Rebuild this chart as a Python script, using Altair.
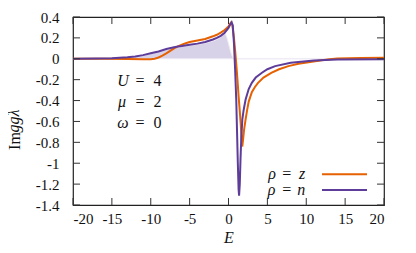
import altair as alt
import pandas as pd

# ---- data ----
E_z = [-20, -16, -13, -11, -10, -9.5, -9, -8.5, -8, -7.5, -7, -6.5, -6, -5.5, -5, -4, -3, -2, -1.5, -1,
       -0.5, 0, 0.15, 0.3, 0.5, 0.7, 0.85, 1.0, 1.15, 1.3, 1.45, 1.57, 1.68, 1.77, 1.88, 2.0, 2.2, 2.4,
       2.6, 3.0, 3.4, 3.8, 4.5, 5.5, 6.5, 7.7, 9, 10.5, 12, 13, 14, 17, 20]
v_z = [0, 0, -0.001, -0.004, -0.004, 0.0, 0.012, 0.03, 0.052, 0.076, 0.1, 0.118, 0.135, 0.148, 0.16,
       0.175, 0.19, 0.215, 0.23, 0.25, 0.275, 0.31, 0.33, 0.345, 0.32, 0.2, 0.08, -0.05, -0.2, -0.36,
       -0.5, -0.62, -0.76, -0.84, -0.77, -0.68, -0.58, -0.49, -0.41, -0.32, -0.27, -0.23, -0.18, -0.135,
       -0.1, -0.07, -0.048, -0.03, -0.014, -0.005, 0.002, 0.008, 0.01]

E_n = [-20, -17, -15, -13, -12, -11, -10, -9, -8, -7, -6.5, -6, -5, -4, -3, -2, -1.5, -1, -0.5, 0,
       0.2, 0.41, 0.55, 0.7, 0.85, 1.0, 1.1, 1.2, 1.3, 1.36, 1.45, 1.55, 1.65, 1.78, 1.95, 2.2, 2.6,
       3.0, 3.5, 4.3, 5, 6, 8, 11, 14, 20]
v_n = [0, 0.002, 0.006, 0.015, 0.022, 0.035, 0.052, 0.07, 0.093, 0.11, 0.117, 0.122, 0.135, 0.145,
       0.16, 0.185, 0.2, 0.22, 0.25, 0.295, 0.325, 0.35, 0.32, 0.15, -0.1, -0.4, -0.7, -1.0, -1.25,
       -1.31, -1.2, -0.95, -0.75, -0.58, -0.49, -0.39, -0.29, -0.23, -0.18, -0.134, -0.1, -0.07,
       -0.038, -0.016, -0.007, -0.005]

E_fill = [-20, -17, -15, -13, -12, -11, -10, -9, -8, -7, -6, -5, -4, -3, -2, -1.5, -1, -0.6, -0.45,
          -0.2, 0.05, 0.3, 0.6, 20]
v_fill = [0, 0.002, 0.005, 0.013, 0.02, 0.032, 0.048, 0.066, 0.088, 0.105, 0.117, 0.128, 0.138, 0.15,
          0.17, 0.185, 0.205, 0.235, 0.25, 0.2, 0.13, 0.06, 0, 0]

x_ticks = [-20, -15, -10, -5, 0, 5, 10, 15, 20]
y_ticks = [0.4, 0.2, 0, -0.2, -0.4, -0.6, -0.8, -1, -1.2, -1.4]

ORANGE = "#e66101"
PURPLE = "#5e3c99"
FONT = "Liberation Serif"

W, H = 311, 188
TL = 7  # inward tick length

xs = alt.Scale(domain=[-20, 20], nice=False, zero=False)
ys = alt.Scale(domain=[-1.4, 0.4], nice=False, zero=False)

x_axis = alt.Axis(values=x_ticks, labelExpr="'' + datum.value", title=None, domain=False,
                  ticks=False, grid=False, labelPadding=6, labelFont=FONT, labelFontSize=15,
                  labelColor="#111")
y_axis = alt.Axis(values=y_ticks, labelExpr="'' + datum.value", title=None, domain=False,
                  ticks=False, grid=False, labelPadding=14, labelFont=FONT, labelFontSize=15,
                  labelColor="#111")

df_z = pd.DataFrame({"E": E_z, "v": v_z})
df_n = pd.DataFrame({"E": E_n, "v": v_n})
df_f = pd.DataFrame({"E": E_fill, "v": v_fill})
df_xt = pd.DataFrame({"E": x_ticks})
df_yt = pd.DataFrame({"v": y_ticks})
one = pd.DataFrame({"a": [0]})

X = alt.X("E:Q", scale=xs, axis=x_axis)
Y = alt.Y("v:Q", scale=ys, axis=y_axis)

fill = alt.Chart(df_f).mark_area(fill="#d8d2e8", stroke="#eeebf4", strokeWidth=1).encode(x=X, y=Y)

line_z = alt.Chart(df_z).mark_line(color=ORANGE, strokeWidth=2).encode(x=X, y=Y)
line_n = alt.Chart(df_n).mark_line(color=PURPLE, strokeWidth=2).encode(x=X, y=Y)

TICKC = "#333"
tick_l = alt.Chart(df_yt).mark_rule(color=TICKC, strokeWidth=1).encode(
    y=Y, x=alt.value(0), x2=alt.value(TL))
tick_r = alt.Chart(df_yt).mark_rule(color=TICKC, strokeWidth=1).encode(
    y=Y, x=alt.value(W - TL), x2=alt.value(W))
tick_b = alt.Chart(df_xt).mark_rule(color=TICKC, strokeWidth=1).encode(
    x=X, y=alt.value(H), y2=alt.value(H - TL))
tick_t = alt.Chart(df_xt).mark_rule(color=TICKC, strokeWidth=1).encode(
    x=X, y=alt.value(0), y2=alt.value(TL))


def txt(s, x, y, italic=False, size=16, angle=0):
    kw = dict(text=s, font=FONT, fontSize=size, align="center", baseline="middle", color="#111")
    if italic:
        kw["fontStyle"] = "italic"
    if angle:
        kw["angle"] = angle
    return alt.Chart(one).mark_text(**kw).encode(x=alt.value(x), y=alt.value(y))


texts = [
    # y axis title
    txt("Im", -58, 124, size=16, angle=270),
    txt("ggλ", -59, 104, italic=True, size=16, angle=270),
    # x axis title
    txt("E", 156, 221, italic=True, size=16),
    # parameters
    txt("U", 50, 64, italic=True), txt("=", 67, 64), txt("4", 84.5, 64),
    txt("μ", 49, 84.5, italic=True), txt("=", 67, 84.5), txt("2", 84.5, 84.5),
    txt("ω", 50, 106, italic=True), txt("=", 67, 106), txt("0", 84.5, 106),
    # legend text
    txt("ρ", 199, 157, italic=True), txt("=", 213.7, 157), txt("z", 229, 157, italic=True),
    txt("ρ", 198.7, 173, italic=True), txt("=", 213.7, 173), txt("n", 228.3, 173, italic=True),
]

leg_z = alt.Chart(one).mark_rule(color=ORANGE, strokeWidth=2).encode(
    x=alt.value(249), x2=alt.value(294), y=alt.value(157.3))
leg_n = alt.Chart(one).mark_rule(color=PURPLE, strokeWidth=2).encode(
    x=alt.value(249), x2=alt.value(294), y=alt.value(173))

chart = alt.layer(
    fill, line_z, line_n, tick_l, tick_r, tick_b, tick_t, leg_z, leg_n, *texts
).properties(
    width=W, height=H,
    autosize=alt.AutoSizeParams(type="none"),
    padding={"left": 65, "top": 9, "right": 24, "bottom": 40},
).configure(
    font=FONT, background="white"
).configure_view(
    stroke="#222", strokeWidth=1.2
)

chart.save("out.html", embed_options={"renderer": "svg", "actions": False})
